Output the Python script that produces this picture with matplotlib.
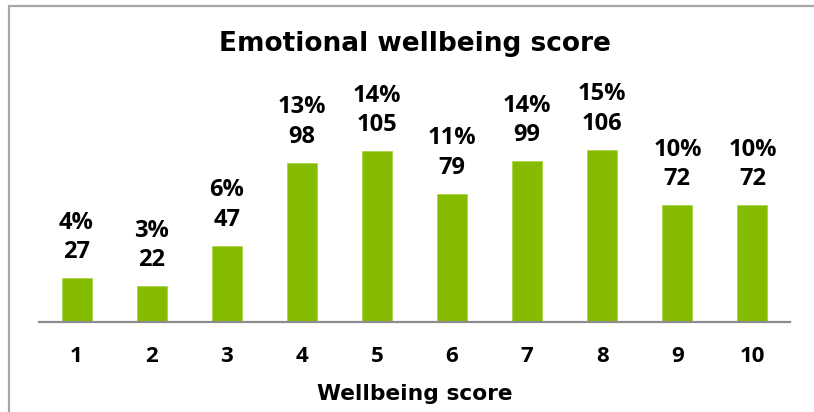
import matplotlib
matplotlib.use("Agg")
import matplotlib.pyplot as plt
from matplotlib.patches import Rectangle

categories = ["1", "2", "3", "4", "5", "6", "7", "8", "9", "10"]
counts = [27, 22, 47, 98, 105, 79, 99, 106, 72, 72]
percents = [4, 3, 6, 13, 14, 11, 14, 15, 10, 10]

W, H = 814, 412
fig = plt.figure(figsize=(W / 100, H / 100), dpi=100)
FONT = "Open Sans"
WIDE = "DejaVu Sans"

# outer border (left and top visible)
fig.patches.append(Rectangle((9 / W, -0.1), 1.2, (H - 6) / H + 0.1, transform=fig.transFigure,
                             fill=False, edgecolor="#a6a6a6", linewidth=1.6))

ax = fig.add_axes([39 / W, 90 / H, (790 - 39) / W, 292.5 / H])
x = list(range(len(categories)))
bars = ax.bar(x, counts, width=0.4, color="#86bc00", edgecolor="#a8d44a", linewidth=0.6)
ax.set_xlim(-0.5, len(categories) - 0.5)
ax.set_ylim(0, 180)
for s in ["top", "right", "left"]:
    ax.spines[s].set_visible(False)
ax.spines["bottom"].set_color("#8c8c8c")
ax.spines["bottom"].set_linewidth(1.6)
ax.set_yticks([])
ax.set_xticks(x)
ax.set_xticklabels(categories, fontsize=16, fontweight="bold", family=FONT)
ax.tick_params(axis="x", length=0, pad=17)

for xi, c, p in zip(x, counts, percents):
    ax.annotate(f"{p}%\n{c}", (xi, c), xytext=(0, 10), textcoords="offset points",
                ha="center", va="bottom", fontsize=17, fontweight="bold", family=FONT,
                linespacing=1.3, color="#000000")

fig.text(415 / W, (H - 51) / H, "Emotional wellbeing score", ha="center", va="baseline",
         fontsize=19, fontweight="bold", family=WIDE)
fig.text(414.5 / W, (H - 400) / H, "Wellbeing score", ha="center", va="baseline",
         fontsize=15.7, fontweight="bold", family=WIDE)

fig.savefig("out.png", dpi=100)
